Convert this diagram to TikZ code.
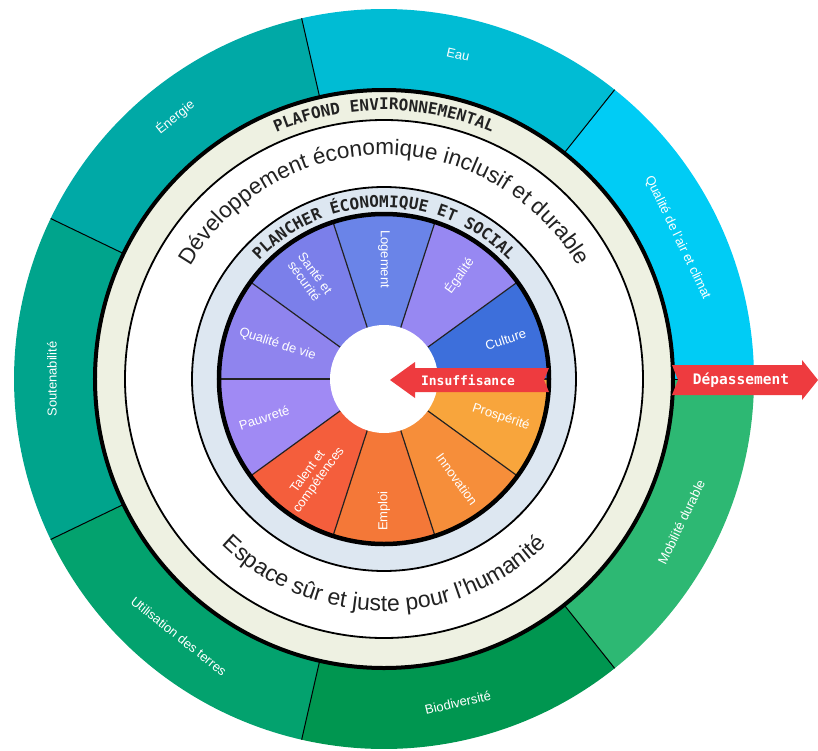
\documentclass[tikz,border=0pt]{standalone}
\usepackage{fontspec}
\setmainfont{Liberation Sans}
\newfontfamily\monofont{DejaVu Sans Mono}
\usetikzlibrary{decorations.text}

\definecolor{cAir}{HTML}{00CCF5}
\definecolor{cEau}{HTML}{00BCD4}
\definecolor{cEnergie}{HTML}{00A9A6}
\definecolor{cSouten}{HTML}{00A48C}
\definecolor{cTerres}{HTML}{03A26E}
\definecolor{cBiodiv}{HTML}{009650}
\definecolor{cMobil}{HTML}{2DB873}
\definecolor{cCulture}{HTML}{3D6FDB}
\definecolor{cEgalite}{HTML}{9788F2}
\definecolor{cLogement}{HTML}{6A84E8}
\definecolor{cSante}{HTML}{7B7FEA}
\definecolor{cQualite}{HTML}{8F84EE}
\definecolor{cPauvrete}{HTML}{A08AF4}
\definecolor{cTalent}{HTML}{F45E3C}
\definecolor{cEmploi}{HTML}{F47838}
\definecolor{cInnov}{HTML}{F68E3A}
\definecolor{cProsp}{HTML}{F8A53C}
\definecolor{cPlafond}{HTML}{EEF1E2}
\definecolor{cPlancher}{HTML}{DDE7F1}
\definecolor{cFleche}{HTML}{EE3B3F}
\definecolor{cEncre}{HTML}{222222}

\begin{document}
\begin{tikzpicture}[x=1pt,y=1pt,
  seglabel/.style={text=white,font=\fontsize{13}{14}\selectfont,align=center,inner sep=0pt},
  wedgelabel/.style={text=white,font=\fontsize{13}{13.5}\selectfont,align=center,inner sep=0pt},
  arrowtext/.style={text=white,font=\monofont\bfseries,inner sep=0pt},
  segline/.style={draw=black,line width=1pt},
  spoke/.style={draw=cEncre,line width=1.2pt}]
\useasboundingbox (-384,-371) rectangle (434,379);

% plafond environnemental
\fill[cAir] (0,0) -- (0:370) arc[start angle=0,end angle=51.43,radius=370] -- cycle;
\fill[cEau] (0,0) -- (51.43:370) arc[start angle=51.43,end angle=102.86,radius=370] -- cycle;
\fill[cEnergie] (0,0) -- (102.86:370) arc[start angle=102.86,end angle=154.29,radius=370] -- cycle;
\fill[cSouten] (0,0) -- (154.29:370) arc[start angle=154.29,end angle=205.71,radius=370] -- cycle;
\fill[cTerres] (0,0) -- (205.71:370) arc[start angle=205.71,end angle=257.14,radius=370] -- cycle;
\fill[cBiodiv] (0,0) -- (257.14:370) arc[start angle=257.14,end angle=308.57,radius=370] -- cycle;
\fill[cMobil] (0,0) -- (308.57:370) arc[start angle=308.57,end angle=360,radius=370] -- cycle;

\fill[cPlafond] (0,0) circle (289);
\fill[white] (0,0) circle (259);
\fill[cPlancher] (0,0) circle (192);

% plancher social
\fill[cCulture] (0,0) -- (0:165) arc[start angle=0,end angle=36,radius=165] -- cycle;
\fill[cEgalite] (0,0) -- (36:165) arc[start angle=36,end angle=72,radius=165] -- cycle;
\fill[cLogement] (0,0) -- (72:165) arc[start angle=72,end angle=108,radius=165] -- cycle;
\fill[cSante] (0,0) -- (108:165) arc[start angle=108,end angle=144,radius=165] -- cycle;
\fill[cQualite] (0,0) -- (144:165) arc[start angle=144,end angle=180,radius=165] -- cycle;
\fill[cPauvrete] (0,0) -- (180:165) arc[start angle=180,end angle=216,radius=165] -- cycle;
\fill[cTalent] (0,0) -- (216:165) arc[start angle=216,end angle=252,radius=165] -- cycle;
\fill[cEmploi] (0,0) -- (252:165) arc[start angle=252,end angle=288,radius=165] -- cycle;
\fill[cInnov] (0,0) -- (288:165) arc[start angle=288,end angle=324,radius=165] -- cycle;
\fill[cProsp] (0,0) -- (324:165) arc[start angle=324,end angle=360,radius=165] -- cycle;

\path[segline] (0:289) -- (0:370);
\path[segline] (51.43:289) -- (51.43:370);
\path[segline] (102.86:289) -- (102.86:370);
\path[segline] (154.29:289) -- (154.29:370);
\path[segline] (205.71:289) -- (205.71:370);
\path[segline] (257.14:289) -- (257.14:370);
\path[segline] (308.57:289) -- (308.57:370);

\path[spoke] (0:54) -- (0:165);
\path[spoke] (36:54) -- (36:165);
\path[spoke] (72:54) -- (72:165);
\path[spoke] (108:54) -- (108:165);
\path[spoke] (144:54) -- (144:165);
\path[spoke] (180:54) -- (180:165);
\path[spoke] (216:54) -- (216:165);
\path[spoke] (252:54) -- (252:165);
\path[spoke] (288:54) -- (288:165);
\path[spoke] (324:54) -- (324:165);

\fill[white] (0,0) circle (54);

\draw[line width=4pt] (0,0) circle (289);
\draw[line width=1.8pt] (0,0) circle (259);
\draw[line width=1.8pt] (0,0) circle (192);
\draw[line width=4.5pt] (0,0) circle (165);

% textes en arc
\path[decorate,decoration={text along path,text align=center,text color=cEncre,
  text={|\monofont\bfseries\fontsize{16}{16}\selectfont|PLAFOND ENVIRONNEMENTAL}}]
  (180:269) arc[start angle=180,end angle=0,radius=269];
\path[decorate,decoration={text along path,text align=center,text color=cEncre,
  text={|\fontsize{22.5}{24}\selectfont|Développement économique inclusif et durable}}]
  (180:224) arc[start angle=180,end angle=0,radius=224];
\path[decorate,decoration={text along path,text align=center,text color=cEncre,
  text={|\fontsize{23}{24}\selectfont|Espace sûr et juste pour l'humanité}}]
  (180:232) arc[start angle=180,end angle=360,radius=232];
\path[decorate,decoration={text along path,text align=center,text color=cEncre,
  text={|\monofont\bfseries\fontsize{16}{16}\selectfont|PLANCHER ÉCONOMIQUE ET SOCIAL}}]
  (180:172) arc[start angle=180,end angle=0,radius=172];

\node[seglabel,rotate=-64.3] (air) at (25.71:326) {Qualité de l'air et climat};
\node[seglabel,rotate=-12.9] (eau) at (77.14:333) {Eau};
\node[seglabel,rotate=38.6] (energie) at (128.57:335) {Énergie};
\node[seglabel,rotate=90] (souten) at (180:332) {Soutenabilité};
\node[seglabel,rotate=-38.6] (terres) at (231.43:329) {Utilisation des terres};
\node[seglabel,rotate=12.9] (biodiv) at (282.86:332) {Biodiversité};
\node[seglabel,rotate=64.3] (mobil) at (334.29:330) {Mobilité durable};

\node[wedgelabel,rotate=18] (culture) at (18:128) {Culture};
\node[wedgelabel,rotate=54] (egalite) at (54:128) {Égalité};
\node[wedgelabel,rotate=-90] (logement) at (90:120) {Logement};
\node[wedgelabel,rotate=-54] (sante) at (126:126) {Santé et\\sécurité};
\node[wedgelabel,rotate=-18] (qualite) at (162:112) {Qualité de vie};
\node[wedgelabel,rotate=18] (pauvrete) at (198:126) {Pauvreté};
\node[wedgelabel,rotate=54] (talent) at (234:120) {Talent et\\compétences};
\node[wedgelabel,rotate=90] (emploi) at (270:132) {Emploi};
\node[wedgelabel,rotate=-54] (innov) at (306:124) {Innovation};
\node[wedgelabel,rotate=-18] (prosp) at (342:123) {Prospérité};

% flèches
\fill[cFleche] (6,-1) -- (31,17) -- (31,11) -- (165,11) -- (160,-1) -- (165,-13) -- (31,-13) -- (31,-19) -- cycle;
\node[arrowtext,font=\monofont\bfseries\fontsize{13}{13}\selectfont] (insuf) at (84,-1) {Insuffisance};
\fill[cFleche] (288,14) -- (418,14) -- (418,19) -- (434,-1) -- (418,-21) -- (418,-16) -- (288,-16) -- (294,-1) -- cycle;
\node[arrowtext,font=\monofont\bfseries\fontsize{14.5}{14.5}\selectfont] (depas) at (357,-1) {Dépassement};
\end{tikzpicture}
\end{document}
